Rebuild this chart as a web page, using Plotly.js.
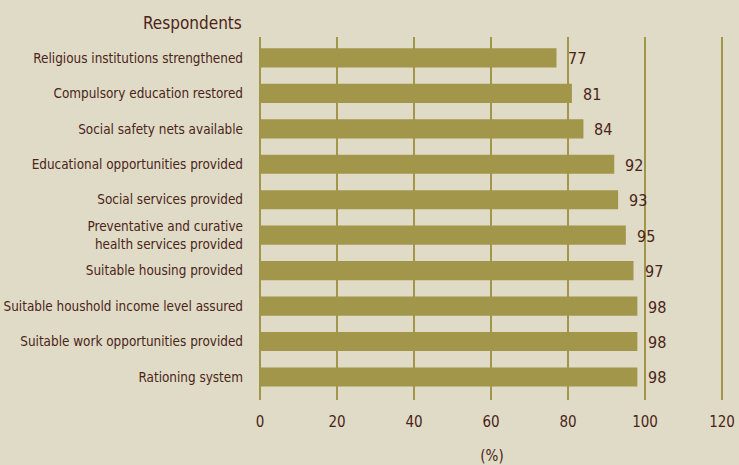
<!DOCTYPE html>
<html>
<head>
<meta charset="utf-8">
<script src="https://cdn.plot.ly/plotly-3.0.1.min.js"></script>
<style>
html,body{margin:0;padding:0;background:#e0dbc6;}
#chart{width:739px;height:465px;}
</style>
</head>
<body>
<div id="chart"></div>
<script>
const categories = [
  "Religious institutions strengthened",
  "Compulsory education restored",
  "Social safety nets available",
  "Educational opportunities provided",
  "Social services provided",
  "Preventative and curative<br>health services provided",
  "Suitable housing provided",
  "Suitable houshold income level assured",
  "Suitable work opportunities provided",
  "Rationing system"
];
const values = [77, 81, 84, 92, 93, 95, 97, 98, 98, 98];
const xTickVals = [0, 20, 40, 60, 80, 100, 120];
const yAxisLabel = "Respondents";
const xAxisLabel = "(%)";

const textColor = "#4a2419";
const barColor = "#a1964a";
const bg = "#e0dbc6";
const font = "'Liberation Sans Narrow', 'DejaVu Sans Condensed', sans-serif";

const trace = {
  type: "bar",
  orientation: "h",
  x: values,
  y: categories,
  marker: {color: barColor, line: {width: 0}},
  width: 0.54,
  hoverinfo: "skip"
};

const annotations = values.map((v, i) => ({
  x: v, y: categories[i], xref: "x", yref: "y",
  text: String(v), showarrow: false,
  xanchor: "left", yanchor: "middle", xshift: 9, yshift: -1,
  font: {family: font, size: 16, color: textColor}
}));
annotations.push({
  xref: "paper", yref: "paper", x: 0, y: 1,
  xanchor: "right", yanchor: "bottom", xshift: -16, yshift: 2,
  text: yAxisLabel, showarrow: false,
  font: {family: font, size: 17, color: textColor}
});

const layout = {
  width: 739, height: 465,
  paper_bgcolor: bg, plot_bgcolor: bg,
  margin: {l: 260, r: 15, t: 37, b: 65},
  showlegend: false,
  bargap: 0.46,
  font: {family: font, color: textColor},
  xaxis: {
    range: [0, 120.5],
    tickvals: xTickVals,
    showgrid: true, gridcolor: barColor, gridwidth: 2,
    zeroline: true, zerolinecolor: barColor, zerolinewidth: 2,
    showline: false, ticks: "",
    ticklabelstandoff: 11,
    tickfont: {family: font, size: 15, color: textColor},
    title: {text: xAxisLabel, font: {family: font, size: 15, color: textColor}, standoff: 21},
    fixedrange: true
  },
  yaxis: {
    type: "category",
    categoryorder: "array", categoryarray: categories,
    range: [9.65, -0.59],
    showgrid: false, zeroline: false, showline: false, ticks: "",
    ticklabelstandoff: 16,
    tickfont: {family: font, size: 13.4, color: textColor},
    fixedrange: true
  },
  annotations: annotations
};

Plotly.newPlot("chart", [trace], layout, {displayModeBar: false, staticPlot: true});
</script>
</body>
</html>
